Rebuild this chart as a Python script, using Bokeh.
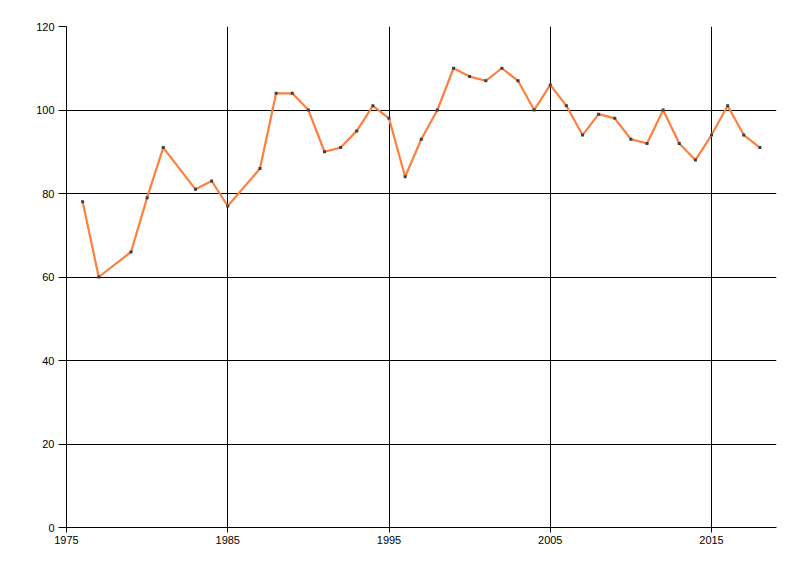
from bokeh.plotting import figure
from bokeh.models import FixedTicker, Range1d
from bokeh.embed import file_html
from bokeh.resources import INLINE

years = [1976, 1977, 1979, 1980, 1981, 1983, 1984, 1985, 1987, 1988, 1989, 1990,
         1991, 1992, 1993, 1994, 1995, 1996, 1997, 1998, 1999, 2000, 2001, 2002,
         2003, 2004, 2005, 2006, 2007, 2008, 2009, 2010, 2011, 2012, 2013, 2014,
         2015, 2016, 2017, 2018]
values = [78, 60, 66, 79, 91, 81, 83, 77, 86, 104, 104, 100,
          90, 91, 95, 101, 98, 84, 93, 100, 110, 108, 107, 110,
          107, 100, 106, 101, 94, 99, 98, 93, 92, 100, 92, 88,
          94, 101, 94, 91]
x_ticks = [1975, 1985, 1995, 2005, 2015]
y_ticks = [0, 20, 40, 60, 80, 100, 120]

W, H = 790, 560
p = figure(width=W, height=H, output_backend="svg", toolbar_location=None,
           x_range=Range1d(1975, 2019.03), y_range=Range1d(0, 120))
p.min_border_left = 66
p.min_border_right = W - 776
p.min_border_top = 26
p.min_border_bottom = H - 527
p.outline_line_color = None
p.background_fill_color = "white"
p.border_fill_color = "white"

p.line(years, values, line_color="#ff7f3f", line_width=2.2)
p.scatter(years, values, marker="square", size=3, fill_color="#404040",
          line_color=None)

for ax in (p.xaxis[0], p.yaxis[0]):
    ax.axis_line_color = "black"
    ax.major_tick_line_color = "black"
    ax.minor_tick_line_color = None
    ax.major_label_text_font = "Liberation Sans"
    ax.major_label_text_font_size = "11px"
    ax.major_label_text_color = "black"
    ax.major_tick_in = 0

p.xaxis[0].ticker = FixedTicker(ticks=x_ticks)
p.yaxis[0].ticker = FixedTicker(ticks=y_ticks)
p.xaxis[0].major_tick_out = 5
p.yaxis[0].major_tick_out = 8
p.xaxis[0].major_label_standoff = 3
p.yaxis[0].major_label_standoff = 4

p.xgrid.ticker = FixedTicker(ticks=x_ticks)
p.ygrid.ticker = FixedTicker(ticks=y_ticks)
for g in (p.xgrid[0], p.ygrid[0]):
    g.grid_line_color = "black"
    g.grid_line_width = 1
    g.grid_line_alpha = 1.0

open("out.html", "w").write(file_html(p, INLINE))
